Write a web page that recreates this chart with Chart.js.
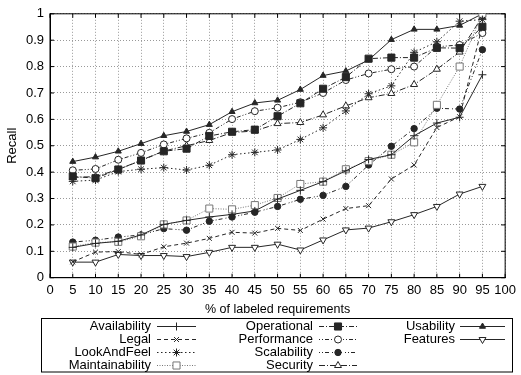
<!DOCTYPE html>
<html><head><meta charset="utf-8">
<script src="https://cdn.jsdelivr.net/npm/chart.js@4"></script>
<style>html,body{margin:0;padding:0;background:#fff}</style>
</head><body>
<canvas id="c" width="521" height="375" style="width:521px;height:375px;display:block"></canvas>
<script>
// ---- data ----
const xValues = [5,10,15,20,25,30,35,40,45,50,55,60,65,70,75,80,85,90,95];
const availability   = [0.115,0.130,0.138,0.162,0.202,0.217,0.230,0.240,0.253,0.298,0.331,0.364,0.405,0.448,0.466,0.538,0.586,0.608,0.769];
const legal          = [0.060,0.097,0.099,0.088,0.117,0.131,0.149,0.172,0.169,0.187,0.179,0.222,0.262,0.273,0.374,0.427,0.569,0.610,0.955];
const lookAndFeel    = [0.365,0.370,0.402,0.411,0.417,0.408,0.426,0.466,0.475,0.484,0.524,0.568,0.632,0.697,0.727,0.854,0.894,0.972,0.978];
const maintainability= [0.118,0.133,0.136,0.157,0.202,0.217,0.262,0.259,0.275,0.302,0.355,0.364,0.411,0.442,0.466,0.513,0.655,0.800,1.000];
const operational    = [0.384,0.377,0.410,0.444,0.479,0.489,0.537,0.553,0.561,0.612,0.661,0.716,0.760,0.830,0.834,0.834,0.871,0.870,0.951];
const performance    = [0.407,0.412,0.447,0.473,0.505,0.528,0.549,0.601,0.631,0.644,0.665,0.700,0.749,0.774,0.790,0.800,0.875,0.882,0.927];
const scalability    = [0.135,0.142,0.154,0.162,0.186,0.180,0.214,0.230,0.248,0.270,0.297,0.312,0.346,0.427,0.498,0.565,0.642,0.639,0.864];
const security       = [0.380,0.383,0.410,0.445,0.480,0.500,0.520,0.550,0.556,0.584,0.588,0.617,0.651,0.682,0.698,0.732,0.790,0.855,0.990];
const usability      = [0.440,0.457,0.479,0.508,0.538,0.554,0.580,0.629,0.662,0.672,0.713,0.766,0.783,0.825,0.902,0.941,0.941,0.956,1.000];
const features       = [0.059,0.059,0.088,0.084,0.084,0.080,0.096,0.115,0.115,0.127,0.105,0.143,0.181,0.188,0.212,0.239,0.270,0.317,0.346];
const seriesNames = ['Availability','Legal','LookAndFeel','Maintainability','Operational','Performance','Scalability','Security','Usability','Features'];
const xTickLabels = ['0','5','10','15','20','25','30','35','40','45','50','55','60','65','70','75','80','85','90','95','100'];
const yTickLabels = ['0','0.1','0.2','0.3','0.4','0.5','0.6','0.7','0.8','0.9','1'];
const xTitle = '% of labeled requirements';
const yTitle = 'Recall';

// ---- styles ----
const DARK = '#262626';
const FONT = "'Liberation Sans', Arial, sans-serif";
const seriesValues = [availability, legal, lookAndFeel, maintainability, operational, performance, scalability, security, usability, features];
const styles = [
  {dash: [], ps: 'cross', r: 4, fill: DARK, col: DARK},
  {dash: [4,3], ps: 'crossRot', r: 3.5, fill: DARK, col: DARK},
  {dash: [1.5,2.5], ps: 'star', r: 4, fill: DARK, col: DARK},
  {dash: [1,1.5], ps: 'rect', r: 5, fill: '#fff', col: '#777'},
  {dash: [5,2,1,2], ps: 'rect', r: 5, fill: DARK, col: DARK},
  {dash: [1,2,1,2,4,2], ps: 'circle', r: 3.5, fill: '#fff', col: DARK},
  {dash: [1,2,1,2,4,3], ps: 'circle', r: 3.2, fill: DARK, col: DARK},
  {dash: [6,2,1,2], ps: 'triangle', r: 4, fill: '#fff', col: DARK},
  {dash: [], ps: 'triangle', r: 3.5, fill: DARK, col: DARK},
  {dash: [], ps: 'triangle', r: 4, fill: '#fff', col: DARK, rot: 180}
];

const datasets = seriesNames.map((name, i) => {
  const s = styles[i];
  return {
    label: name,
    data: xValues.map((x, j) => ({x: x, y: seriesValues[i][j]})),
    borderColor: s.col,
    borderWidth: 1,
    borderDash: s.dash,
    pointStyle: s.ps,
    pointRadius: s.r,
    pointRotation: s.rot || 0,
    pointBackgroundColor: s.fill,
    pointBorderColor: s.col,
    pointBorderWidth: 1,
    fill: false,
    tension: 0
  };
});

Chart.defaults.font.family = FONT;
Chart.defaults.font.size = 13;
Chart.defaults.color = '#000';

const framePlugin = {
  id: 'frame',
  beforeDatasetsDraw(chart) {
    const {ctx, chartArea: a} = chart;
    ctx.save();
    ctx.strokeStyle = '#000';
    ctx.lineWidth = 1;
    ctx.setLineDash([]);
    ctx.strokeRect(a.left, a.top, a.right - a.left, a.bottom - a.top);
    const xs = chart.scales.x, ys = chart.scales.y, L = 4;
    ctx.beginPath();
    xs.ticks.forEach(t => {
      const px = xs.getPixelForValue(t.value);
      ctx.moveTo(px, a.bottom); ctx.lineTo(px, a.bottom - L);
      ctx.moveTo(px, a.top); ctx.lineTo(px, a.top + L);
    });
    ys.ticks.forEach(t => {
      const py = ys.getPixelForValue(t.value);
      ctx.moveTo(a.left, py); ctx.lineTo(a.left + L, py);
      ctx.moveTo(a.right, py); ctx.lineTo(a.right - L, py);
    });
    ctx.stroke();
    ctx.restore();
  }
};

function drawMarker(ctx, ds, x, y) {
  const opts = {pointStyle: ds.pointStyle, radius: ds.pointRadius, rotation: ds.pointRotation, borderWidth: 1};
  ctx.save();
  ctx.setLineDash([]);
  ctx.fillStyle = ds.pointBackgroundColor;
  ctx.strokeStyle = ds.pointBorderColor;
  ctx.lineWidth = 1;
  if (Chart.helpers && Chart.helpers.drawPoint) {
    Chart.helpers.drawPoint(ctx, opts, x, y);
  }
  ctx.restore();
}

const legendPlugin = {
  id: 'boxLegend',
  afterDraw(chart) {
    const ctx = chart.ctx;
    ctx.save();
    ctx.strokeStyle = '#000';
    ctx.lineWidth = 1;
    ctx.setLineDash([]);
    ctx.strokeRect(41.5, 318.5, 471, 53.5);
    const colText = [151, 313, 455];
    const colLine = [[157, 196], [319, 357], [460, 505]];
    const rowY = [326, 339, 352, 365];
    ctx.font = "13px " + FONT;
    ctx.textAlign = 'right';
    ctx.textBaseline = 'middle';
    chart.data.datasets.forEach((ds, i) => {
      const col = i < 4 ? 0 : (i < 8 ? 1 : 2);
      const row = i < 8 ? i % 4 : i - 8;
      const y = rowY[row];
      ctx.fillStyle = '#000';
      ctx.fillText(ds.label, colText[col], y);
      ctx.save();
      ctx.strokeStyle = ds.borderColor;
      ctx.lineWidth = 1;
      ctx.setLineDash(ds.borderDash);
      ctx.beginPath();
      ctx.moveTo(colLine[col][0], y + 0.5);
      ctx.lineTo(colLine[col][1], y + 0.5);
      ctx.stroke();
      ctx.restore();
      drawMarker(ctx, ds, (colLine[col][0] + colLine[col][1]) / 2, y + 0.5);
    });
    ctx.restore();
  }
};

new Chart(document.getElementById('c'), {
  type: 'line',
  data: {datasets: datasets},
  options: {
    responsive: false,
    animation: false,
    devicePixelRatio: 1,
    layout: {padding: {left: 0, right: 12, top: 7.5, bottom: 57.3}},
    plugins: {legend: {display: false}, tooltip: {enabled: false}},
    scales: {
      x: {
        type: 'linear', min: 0, max: 100,
        afterBuildTicks: s => { s.ticks = xTickLabels.map(v => ({value: Number(v)})); },
        afterFit: s => { s.height = 40; },
        ticks: {padding: 5, maxRotation: 0, autoSkip: false,
          callback: v => xTickLabels[xTickLabels.indexOf(String(v))] ?? String(v)},
        grid: {color: '#999', lineWidth: 1, drawTicks: false},
        border: {display: true, color: '#000', width: 1, dash: [1, 2]},
        title: {display: true, text: xTitle, padding: {top: 0, bottom: 0.5}, font: {size: 12.5}}
      },
      y: {
        type: 'linear', min: 0, max: 1,
        afterBuildTicks: s => { s.ticks = yTickLabels.map(v => ({value: Number(v)})); },
        afterFit: s => { s.width = 50; },
        ticks: {padding: 6, autoSkip: false,
          callback: v => yTickLabels.find(t => Math.abs(Number(t) - v) < 1e-9) ?? String(v)},
        grid: {color: '#999', lineWidth: 1, drawTicks: false},
        border: {display: true, color: '#000', width: 1, dash: [1, 2]},
        title: {display: true, text: yTitle, padding: {top: 4.5, bottom: 0}, font: {size: 13}}
      }
    }
  },
  plugins: [framePlugin, legendPlugin]
});
</script>
</body></html>
